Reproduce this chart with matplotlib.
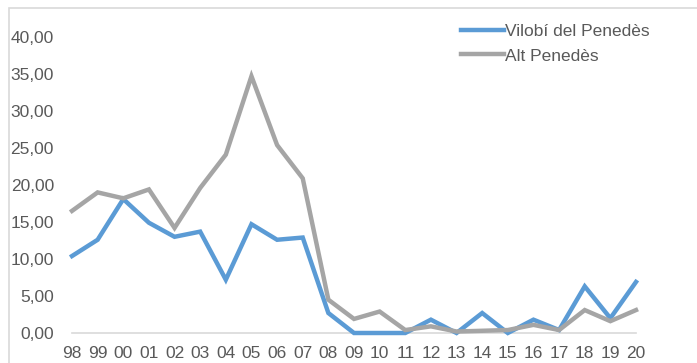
import matplotlib.pyplot as plt
from matplotlib.patches import Rectangle

plt.rcParams["font.family"] = ["Liberation Sans", "DejaVu Sans"]

years = ["98", "99", "00", "01", "02", "03", "04", "05", "06", "07", "08",
         "09", "10", "11", "12", "13", "14", "15", "16", "17", "18", "19", "20"]
vilobi = [10.4, 12.6, 18.1, 14.9, 13.0, 13.7, 7.2, 14.7, 12.6, 12.9, 2.7,
          0.0, 0.0, 0.0, 1.8, 0.0, 2.7, 0.0, 1.8, 0.4, 6.3, 2.0, 6.9]
alt_penedes = [16.5, 19.0, 18.2, 19.4, 14.2, 19.6, 24.1, 34.7, 25.4, 20.9, 4.5,
               1.9, 2.9, 0.4, 0.9, 0.2, 0.3, 0.4, 1.1, 0.4, 3.1, 1.6, 3.1]
yticks = [0, 5, 10, 15, 20, 25, 30, 35, 40]

W, H = 697, 363
fig = plt.figure(figsize=(W / 100, H / 100), dpi=100)
ax = fig.add_axes([72 / W, 1 - 333 / H, (636 - 72) / W, (333 - 37) / H])

x = range(len(years))
ax.plot(x, vilobi, color="#5B9BD5", lw=3.2, label="Vilobí del Penedès",
        solid_joinstyle="miter", clip_on=False)
ax.plot(x, alt_penedes, color="#A5A5A5", lw=3.2, label="Alt Penedès",
        solid_joinstyle="miter", clip_on=False)

ax.set_xlim(0, len(years) - 1)
ax.set_ylim(0, 40)
ax.set_xticks(list(x))
ax.set_xticklabels(years)
ax.set_yticks(yticks)
ax.set_yticklabels([f"{v:.2f}".replace(".", ",") for v in yticks])
ax.tick_params(length=0, labelsize=12.5, colors="#595959")
ax.tick_params(axis="y", pad=13)
ax.tick_params(axis="x", pad=9)

for side in ["top", "right", "left"]:
    ax.spines[side].set_visible(False)
ax.spines["bottom"].set_color("#D9D9D9")
ax.spines["bottom"].set_linewidth(1.2)
ax.spines["bottom"].set_zorder(0)

leg = fig.legend(loc="upper left", bbox_to_anchor=(452 / W, 1 - 15 / H),
                 frameon=False, fontsize=12.5, handlelength=2.5,
                 handletextpad=0.05, labelspacing=0.55, borderpad=0)
for t in leg.get_texts():
    t.set_color("#595959")

fig.patches.append(Rectangle((9 / W, -0.1), 1.2, 1 - 8 / H + 0.1,
                             transform=fig.transFigure, fill=False,
                             edgecolor="#D9D9D9", lw=1.2))

fig.savefig("out.png", dpi=100)
